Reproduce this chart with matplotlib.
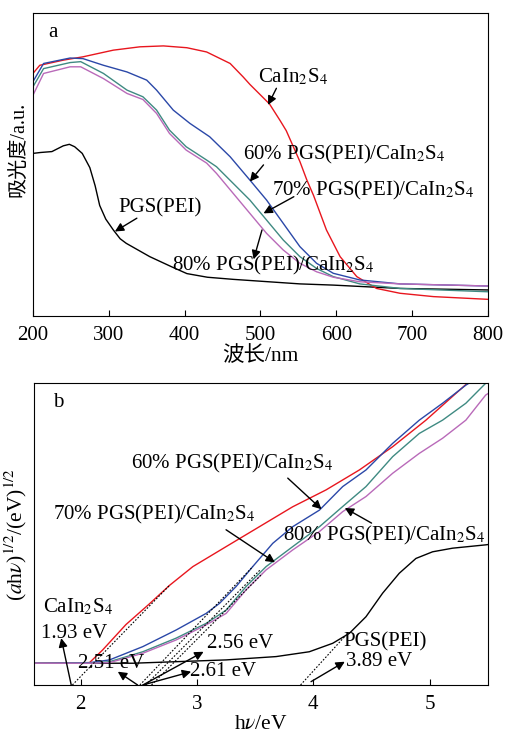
import numpy as np
import matplotlib
matplotlib.use("Agg")
import matplotlib.pyplot as plt

plt.rcParams['font.family'] = ['Liberation Serif', 'Noto Sans CJK SC']
plt.rcParams['mathtext.fontset'] = 'stix'

# ---- panel a: absorbance vs wavelength (arbitrary units, 0..1 of axis height)
nm_red = [200, 209, 240, 266, 306, 341, 372, 403, 429, 460, 477, 486, 512, 526, 534, 552, 561,
          570, 587, 605, 627, 653, 684, 728, 800]
abs_red = [0.801, 0.828, 0.845, 0.856, 0.878, 0.889, 0.892, 0.886, 0.872, 0.834, 0.790, 0.765,
           0.700, 0.645, 0.612, 0.510, 0.450, 0.398, 0.284, 0.196, 0.130, 0.091, 0.075, 0.064,
           0.055]

nm_60 = [200, 214, 249, 266, 293, 324, 350, 363, 385, 407, 433, 460, 486, 508, 530, 552, 574,
         596, 631, 684, 800]
abs_60 = [0.774, 0.834, 0.852, 0.850, 0.828, 0.806, 0.779, 0.746, 0.680, 0.636, 0.592, 0.526,
          0.449, 0.383, 0.306, 0.229, 0.174, 0.141, 0.119, 0.106, 0.099]

nm_mix = [200, 214, 249, 263, 293, 324, 345, 363, 380, 402, 429, 442, 464, 486, 508, 530, 552,
          574, 596, 631, 684, 800]
abs_70 = [0.757, 0.817, 0.837, 0.840, 0.801, 0.746, 0.724, 0.680, 0.614, 0.559, 0.515, 0.493,
          0.438, 0.383, 0.317, 0.251, 0.196, 0.157, 0.130, 0.106, 0.091, 0.080]
abs_80 = [0.729, 0.801, 0.823, 0.823, 0.784, 0.735, 0.715, 0.669, 0.603, 0.548, 0.505, 0.471,
          0.405, 0.339, 0.273, 0.218, 0.174, 0.146, 0.128, 0.113, 0.106, 0.099]

nm_pgs = [200, 210, 225, 240, 248, 255, 265, 275, 282, 288, 296, 306, 315, 323, 354, 385, 403,
          430, 464, 552, 596, 684, 800]
abs_pgs = [0.537, 0.540, 0.543, 0.562, 0.567, 0.559, 0.537, 0.490, 0.430, 0.365, 0.320, 0.284,
           0.255, 0.240, 0.196, 0.160, 0.140, 0.128, 0.121, 0.106, 0.102, 0.091, 0.086]

# ---- panel b: Tauc plot
ev_red = [1.6, 2.077, 2.19, 2.39, 2.59, 2.765, 2.965, 3.25, 3.536, 3.822, 4.109, 4.395, 4.681,
          4.967, 5.31, 5.33]
tauc_red = [0.072, 0.074, 0.116, 0.200, 0.268, 0.330, 0.392, 0.458, 0.524, 0.590, 0.646, 0.712,
            0.789, 0.877, 0.995, 1.0]

ev_60 = [1.6, 2.08, 2.249, 2.535, 2.821, 3.079, 3.193, 3.336, 3.479, 3.651, 3.822, 4.052, 4.252,
         4.452, 4.681, 4.910, 5.11, 5.31, 5.34]
tauc_60 = [0.072, 0.074, 0.083, 0.127, 0.182, 0.237, 0.270, 0.326, 0.392, 0.469, 0.524, 0.579,
           0.657, 0.712, 0.800, 0.877, 0.933, 0.993, 1.0]

ev_tm = [1.6, 2.08, 2.249, 2.535, 2.821, 3.079, 3.251, 3.422, 3.594, 3.822, 4.052, 4.252, 4.452,
         4.681, 4.910, 5.11, 5.31, 5.48, 5.5]
tauc_70 = [0.072, 0.072, 0.077, 0.110, 0.155, 0.204, 0.248, 0.326, 0.392, 0.458, 0.524, 0.591,
           0.657, 0.756, 0.833, 0.877, 0.933, 0.999, 1.0]
tauc_80 = [0.072, 0.072, 0.074, 0.105, 0.149, 0.199, 0.237, 0.315, 0.381, 0.447, 0.508, 0.574,
           0.624, 0.701, 0.767, 0.817, 0.877, 0.960, 0.965]

ev_pgs = [2.0, 2.45, 3.251, 3.68, 3.965, 4.166, 4.309, 4.452, 4.595, 4.738, 4.881, 5.024, 5.196,
          5.48, 5.5]
tauc_pgs = [0.072, 0.072, 0.083, 0.094, 0.110, 0.138, 0.171, 0.226, 0.304, 0.370, 0.419, 0.441,
            0.453, 0.464, 0.465]

# tangent lines: (x0, y0, x1, y1)
tangents = [(1.93, 0.0, 2.765, 0.330),
            (2.51, 0.0, 3.48, 0.392),
            (2.56, 0.0, 3.54, 0.380),
            (2.61, 0.0, 3.56, 0.368),
            (3.89, 0.0, 4.28, 0.165)]

C_RED = '#e8161e'
C_BLUE = '#2b48a8'
C_TEAL = '#3f8a82'
C_MAG = '#b96ab9'
LW = 1.0
FS = 15
cain = r'CaIn$_2$S$_4$'

fig = plt.figure(figsize=(5.07, 7.34), dpi=100)
ax1 = fig.add_axes([0.065, 0.5695, 0.8975, 0.4125])
ax2 = fig.add_axes([0.067, 0.0668, 0.8955, 0.4114])

arrow = dict(arrowstyle='-|>', color='k', lw=1.0, mutation_scale=13, shrinkA=0, shrinkB=0)

# panel a
ax1.plot(nm_pgs, abs_pgs, color='k', lw=LW)
ax1.plot(nm_red, abs_red, color=C_RED, lw=LW)
ax1.plot(nm_60, abs_60, color=C_BLUE, lw=LW)
ax1.plot(nm_mix, abs_70, color=C_TEAL, lw=LW)
ax1.plot(nm_mix, abs_80, color=C_MAG, lw=LW)
ax1.set_xlim(200, 800)
ax1.set_ylim(0, 1)
ax1.set_yticks([])
ax1.set_xticks(range(200, 801, 100))
ax1.tick_params(axis='x', direction='in', labelsize=15, length=4, pad=7)
ax1.set_xlabel('波长/nm', fontsize=15.5, labelpad=1)
ax1.set_ylabel('吸光度/a.u.', fontsize=14.5)
ax1.yaxis.set_label_coords(-0.01, 0.55)
ax1.text(226, 0.937, 'a', fontsize=15, ha='center', va='center')

ax1.text(497, 0.79, cain, fontsize=FS, va='center')
ax1.annotate('', xy=(510, 0.697), xytext=(521, 0.752), arrowprops=arrow)
ax1.text(477, 0.532, '60% PGS(PEI)/' + cain, fontsize=FS, va='center')
ax1.annotate('', xy=(486, 0.444), xytext=(504, 0.499), arrowprops=arrow)
ax1.text(515, 0.416, '70% PGS(PEI)/' + cain, fontsize=FS, va='center')
ax1.annotate('', xy=(504, 0.339), xytext=(544, 0.394), arrowprops=arrow)
ax1.text(313, 0.356, 'PGS(PEI)', fontsize=FS, va='center')
ax1.annotate('', xy=(308, 0.279), xytext=(337, 0.323), arrowprops=arrow)
ax1.text(383, 0.168, '80% PGS(PEI)/' + cain, fontsize=FS, va='center')
ax1.annotate('', xy=(491, 0.187), xytext=(502, 0.284), arrowprops=arrow)

# panel b
ax2.plot(ev_pgs, tauc_pgs, color='k', lw=LW)
ax2.plot(ev_red, tauc_red, color=C_RED, lw=LW)
ax2.plot(ev_60, tauc_60, color=C_BLUE, lw=LW)
ax2.plot(ev_tm, tauc_70, color=C_TEAL, lw=LW)
ax2.plot(ev_tm, tauc_80, color=C_MAG, lw=LW)
for x0, y0, x1, y1 in tangents:
    ax2.plot([x0, x1], [y0, y1], color='k', lw=0.8, ls=(0, (1.5, 1.5)))
ax2.set_xlim(1.6, 5.5)
ax2.set_ylim(0, 1)
ax2.set_yticks([])
ax2.set_xticks([2, 3, 4, 5])
ax2.tick_params(axis='x', direction='in', labelsize=15, length=4, pad=7)
ax2.set_xlabel(r'h$\nu$/eV', fontsize=15.5, labelpad=1)
ax2.set_ylabel(r'($\mathit{a}$h$\nu$)$^{1/2}$/(eV)$^{1/2}$', fontsize=15.5)
ax2.yaxis.set_label_coords(-0.01, 0.5)
ax2.text(1.805, 0.934, 'b', fontsize=15, ha='center', va='center')

ax2.text(2.43, 0.735, '60% PGS(PEI)/' + cain, fontsize=FS, va='center')
ax2.annotate('', xy=(4.07, 0.582), xytext=(3.78, 0.685), arrowprops=arrow)
ax2.text(1.76, 0.564, '70% PGS(PEI)/' + cain, fontsize=FS, va='center')
ax2.annotate('', xy=(3.67, 0.406), xytext=(3.25, 0.514), arrowprops=arrow)
ax2.text(3.74, 0.495, '80% PGS(PEI)/' + cain, fontsize=FS, va='center')
ax2.annotate('', xy=(4.27, 0.586), xytext=(4.50, 0.536), arrowprops=arrow)

ax2.text(1.676, 0.26, cain, fontsize=FS, va='center')
ax2.text(1.66, 0.171, '1.93 eV', fontsize=FS, va='center')
ax2.annotate('', xy=(1.834, 0.155), xytext=(1.92, 0.0), arrowprops=arrow)
ax2.text(1.977, 0.072, '2.51 eV', fontsize=FS, va='center')
ax2.annotate('', xy=(2.32, 0.044), xytext=(2.49, 0.0), arrowprops=arrow)
ax2.text(3.09, 0.138, '2.56 eV', fontsize=FS, va='center')
ax2.annotate('', xy=(3.057, 0.11), xytext=(2.536, 0.0), arrowprops=arrow)
ax2.text(2.937, 0.044, '2.61 eV', fontsize=FS, va='center')
ax2.annotate('', xy=(2.95, 0.044), xytext=(2.536, 0.0), arrowprops=arrow)
ax2.text(4.255, 0.144, 'PGS(PEI)', fontsize=FS, va='center')
ax2.text(4.284, 0.077, '3.89 eV', fontsize=FS, va='center')
ax2.annotate('', xy=(4.27, 0.077), xytext=(3.98, 0.011), arrowprops=arrow)

fig.savefig('out.png', dpi=100)
